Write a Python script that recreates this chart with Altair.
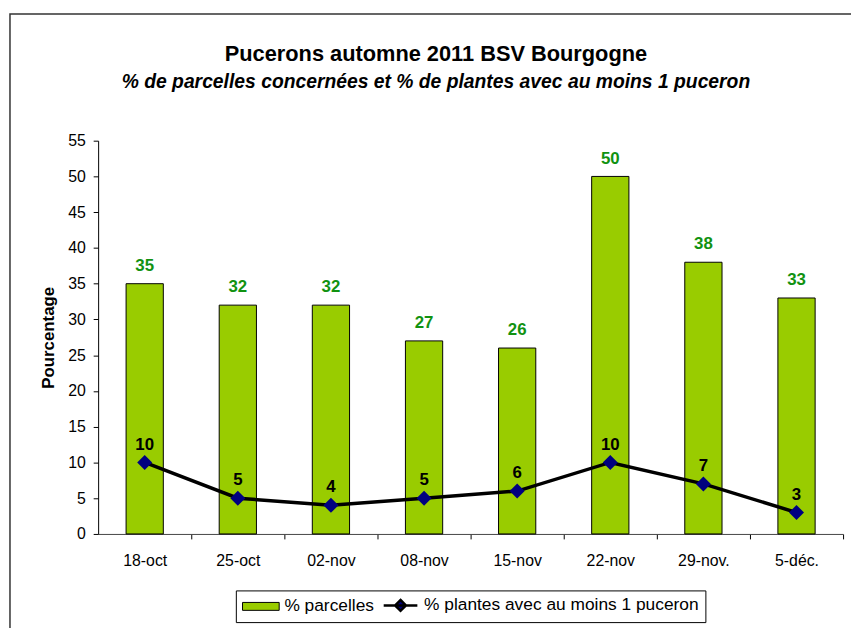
import altair as alt
import pandas as pd

dates = ["18-oct", "25-oct", "02-nov", "08-nov", "15-nov", "22-nov", "29-nov.", "5-déc."]
parcelles = [35, 32, 32, 27, 26, 50, 38, 33]
plantes = [10, 5, 4, 5, 6, 10, 7, 3]

S1 = "% parcelles"
S2 = "% plantes avec au moins 1 puceron"
y_ticks = list(range(0, 56, 5))

df = pd.DataFrame({"date": dates, "parcelles": parcelles, "plantes": plantes})

FONT = "Liberation Sans"
W, H = 752, 397
STEP = W / len(dates)

x_axis = alt.Axis(labelAngle=0, tickOffset=STEP / 2, labelOffset=-STEP / 2,
                  tickSize=5, tickColor="black", domainColor="#444",
                  labelFont=FONT, labelFontSize=16, labelColor="black",
                  labelPadding=14, grid=False, title=None)
x_scale = alt.Scale(paddingInner=0.6, paddingOuter=0.3)

y_scale = alt.Scale(domain=[0, 55], nice=False)
y_axis = alt.Axis(values=y_ticks, tickSize=5, tickColor="black", domainColor="black",
                  labelFont=FONT, labelFontSize=16, labelColor="black", labelPadding=8,
                  labelOverlap=False, grid=False, title="Pourcentage", titleFont=FONT,
                  titleFontSize=17, titleFontWeight="bold", titleColor="black",
                  titlePadding=10)


def X():
    return alt.X("date:N", sort=dates, scale=x_scale, axis=x_axis)


def Y(field):
    return alt.Y(field, scale=y_scale, axis=y_axis)


color_scale = alt.Scale(domain=[S1, S2], range=["#99CC00", "#000080"])

shape_expr = ("datum.value === '% parcelles' ? 'M-3.7,-0.8H3.7V0.8H-3.7Z' : "
              "'M-3.4,0H3.4M0,-1.1L1.1,0L0,1.1L-1.1,0Z'")
legend = alt.Legend(
    orient="none", legendX=139, legendY=454, direction="horizontal", title=None,
    strokeColor="black", fillColor="white", padding=6,
    labelFont=FONT, labelFontSize=17.5, labelColor="black", labelLimit=500,
    symbolSize=100, symbolOffset=10.5, labelOffset=15, columnPadding=4,
    symbolType=alt.ExprRef(expr=shape_expr),
    symbolStrokeColor="black",
    symbolStrokeWidth=alt.ExprRef(expr="datum.value === '% parcelles' ? 1 : 2.5"),
    symbolOpacity=1,
)

base = alt.Chart(df)

frame = alt.Chart(alt.Data(values=[{"k": 1}])).mark_rect(
    fill="transparent", stroke="#333", strokeWidth=1.5
).encode(x=alt.value(-89), x2=alt.value(770), y=alt.value(-128), y2=alt.value(500))

bars = base.transform_calculate(serie=f"'{S1}'").mark_bar(stroke="black", strokeWidth=1).encode(
    x=X(), y=Y("parcelles:Q"),
    color=alt.Color("serie:N", scale=color_scale, legend=legend),
)

bar_labels = base.mark_text(font=FONT, fontSize=17, fontWeight="bold", color="#119211",
                            baseline="alphabetic", dy=-13).encode(
    x=X(), y=Y("parcelles:Q"), text="parcelles:Q")

line = base.mark_line(color="black", strokeWidth=3.5).encode(x=X(), y=Y("plantes:Q"))

points = base.transform_calculate(serie=f"'{S2}'").mark_point(
    shape="diamond", filled=True, size=230, opacity=1).encode(
    x=X(), y=Y("plantes:Q"),
    color=alt.Color("serie:N", scale=color_scale, legend=legend))

line_labels = base.mark_text(font=FONT, fontSize=17, fontWeight="bold", color="black",
                             baseline="alphabetic", dy=-13).encode(
    x=X(), y=Y("plantes:Q"), text="plantes:Q")

chart = alt.layer(frame, bars, bar_labels, line, points, line_labels).properties(
    width=W, height=H,
    autosize=alt.AutoSizeParams(type="none"),
    padding={"left": 91, "top": 131, "right": 8, "bottom": 92},
    background="white",
    title=alt.TitleParams(
        text="Pucerons automne 2011 BSV Bourgogne",
        subtitle="% de parcelles concernées et % de plantes avec au moins 1 puceron",
        font=FONT, fontSize=22, fontWeight="bold", color="black",
        subtitleFont=FONT, subtitleFontSize=19.5, subtitleFontStyle="italic",
        subtitleFontWeight="bold", subtitleColor="black", subtitlePadding=7.5,
        anchor="middle", frame="group", dx=-35, offset=0, dy=80,
    ),
).configure_view(stroke=None)

chart.save("out.html", embed_options={"renderer": "svg", "actions": False})
